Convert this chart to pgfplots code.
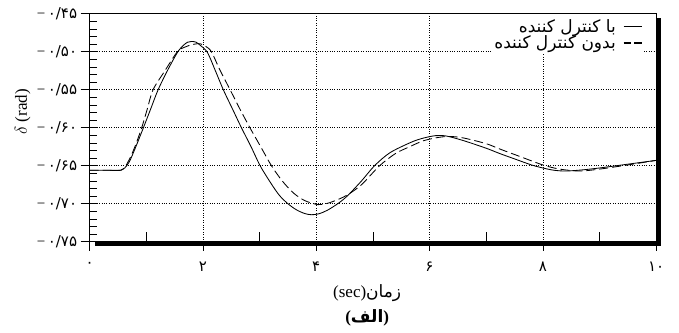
\documentclass[border=0pt]{standalone}
\usepackage{fontspec}
\setmainfont{Liberation Serif}
\newfontfamily\arabicfont[Script=Arabic]{DejaVu Sans}
\TeXXeTstate=1
\usepackage{pgfplots}
\pgfplotsset{compat=1.18}
\newcommand{\fa}[1]{{\arabicfont #1}}
\newcommand{\ny}[1]{−\,\fa{#1}}
\pgfplotstableread{
t y
0 -0.656
0.3 -0.656
0.55 -0.656
0.62 -0.653
0.7 -0.645
0.8 -0.628
0.95 -0.600
1.08 -0.575
1.21 -0.550
1.38 -0.524
1.55 -0.501
1.65 -0.492
1.73 -0.4875
1.80 -0.4865
1.88 -0.4875
1.96 -0.492
2.08 -0.501
2.22 -0.525
2.36 -0.550
2.52 -0.575
2.68 -0.600
2.85 -0.625
3.01 -0.650
3.2 -0.673
3.35 -0.689
3.5 -0.700
3.65 -0.708
3.8 -0.7130
3.92 -0.7145
4.05 -0.7132
4.2 -0.7085
4.4 -0.699
4.56 -0.689
4.8 -0.670
5.03 -0.650
5.3 -0.633
5.65 -0.620
5.85 -0.6145
6.1 -0.6105
6.3 -0.6110
6.6 -0.617
7.0 -0.627
7.24 -0.634
7.5 -0.641
7.8 -0.649
8.0 -0.653
8.2 -0.656
8.41 -0.657
8.7 -0.6555
9.0 -0.653
9.5 -0.648
10 -0.643
}\withctrl
\pgfplotstableread{
t y
0 -0.656
0.3 -0.656
0.55 -0.656
0.62 -0.652
0.7 -0.642
0.8 -0.625
0.92 -0.600
1.02 -0.575
1.12 -0.550
1.33 -0.525
1.55 -0.500
1.68 -0.494
1.82 -0.4905
1.95 -0.4895
2.05 -0.493
2.15 -0.500
2.3 -0.524
2.48 -0.550
2.65 -0.575
2.83 -0.600
3.02 -0.625
3.21 -0.650
3.4 -0.670
3.6 -0.686
3.8 -0.696
4.03 -0.7012
4.2 -0.6995
4.4 -0.694
4.56 -0.688
4.8 -0.675
5.12 -0.650
5.4 -0.634
5.65 -0.625
5.9 -0.617
6.18 -0.6125
6.36 -0.6115
6.6 -0.6135
7.0 -0.621
7.24 -0.628
7.6 -0.638
8.0 -0.649
8.3 -0.6545
8.65 -0.6570
9.0 -0.6545
9.5 -0.649
10 -0.643
}\withoutctrl
\begin{document}
\begin{tikzpicture}
\path[use as bounding box] (-89.6pt,-90.3pt) rectangle (589.4pt,241.7pt);
\begin{axis}[
  at={(0pt,0pt)}, anchor=south west,
  scale only axis, width=566.5pt, height=228pt,
  xmin=0, xmax=10, ymin=-0.75, ymax=-0.45,
  axis line style={line width=0.6pt},
  xtick={0,2,4,6,8,10},
  xticklabels={\fa{۰},\fa{۲},\fa{۴},\fa{۶},\fa{۸},\fa{۱۰}},
  ytick={-0.75,-0.70,-0.65,-0.60,-0.55,-0.50,-0.45},
  yticklabels={\ny{۰/۷۵},\ny{۰/۷۰},\ny{۰/۶۵},\ny{۰/۶۰},\ny{۰/۵۵},\ny{۰/۵۰},\ny{۰/۴۵}},
  tick align=outside, major tick length=9pt,
  xtick pos=bottom, ytick pos=left,
  tick style={black, line width=0.6pt},
  grid=major, grid style={black, dotted, line width=0.6pt},
  extra x ticks={1,3,5,7,9}, extra x tick labels={},
  extra x tick style={tick align=inside, major tick length=10pt, grid=none},
  extra y ticks={-0.74,-0.73,-0.72,-0.71,-0.70,-0.69,-0.68,-0.67,-0.66,-0.65,-0.64,-0.63,-0.62,-0.61,-0.60,-0.59,-0.58,-0.57,-0.56,-0.55,-0.54,-0.53,-0.52,-0.51,-0.50,-0.49,-0.48,-0.47,-0.46},
  extra y tick labels={},
  extra y tick style={tick align=inside, major tick length=7pt, grid=none},
  tick label style={font=\fontsize{15}{17}\selectfont},
  xticklabel style={yshift=-8pt},
  ylabel={$\delta$ (rad)},
  ylabel style={font=\fontsize{17}{19}\selectfont, at={(axis description cs:-0.118,0.57)}, anchor=center},
  xlabel={(sec)\fa{\beginR زمان\endR}},
  xlabel style={font=\fontsize{17}{19}\selectfont, at={(axis description cs:0.49,-0.225)}, anchor=center},
  legend style={at={(0.978,0.99)}, anchor=north east, draw=none, fill=white,
    font=\fontsize{17}{18}\selectfont, legend cell align=right,
    row sep=-2pt, column sep=5pt, inner sep=1pt},
  legend plot pos=right,
  legend image code/.code={\draw[#1, line width=1.6pt] (0pt,0pt) -- (18pt,0pt);},
]
\addplot[black, line width=0.85pt, smooth, tension=0.5] table[x=t,y=y] {\withctrl};
\addlegendentry{\fa{\beginR با کنترل کننده\endR}}
\addplot[black, line width=0.85pt, dash pattern=on 9pt off 4pt, smooth, tension=0.5, legend image post style={dash pattern=on 7.5pt off 3pt}] table[x=t,y=y] {\withoutctrl};
\addlegendentry{\fa{\beginR بدون کنترل کننده\endR}}
\end{axis}
\draw[line width=4.5pt, miter limit=10] (5.5pt,-2.2pt) -- (568.7pt,-2.2pt) -- (568.7pt,224pt);
\node[font=\fontsize{17}{19}\selectfont] at (277.6pt,-76pt) {\textbf{(}\fa{\bfseries\beginR الف\endR}\textbf{)}};
\end{tikzpicture}
\end{document}
